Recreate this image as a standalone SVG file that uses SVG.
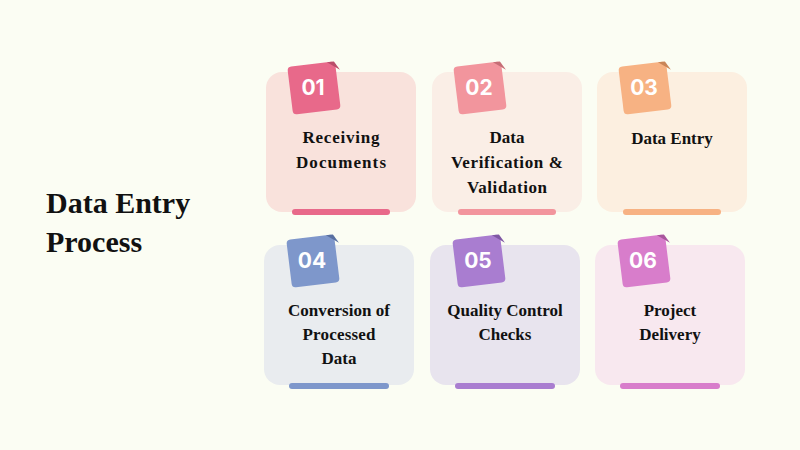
<svg xmlns="http://www.w3.org/2000/svg" width="800" height="450" viewBox="0 0 800 450">
<style>
.card{stroke:none}
.lbl{font-family:"Liberation Serif","DejaVu Serif",serif;font-weight:bold;font-size:17px;fill:#111;text-anchor:middle}
.title{font-family:"Liberation Serif","DejaVu Serif",serif;font-weight:bold;font-size:30px;fill:#111}
.num{font-family:Inter,"Open Sans","Liberation Sans",sans-serif;font-weight:700;font-size:21px;fill:#fff;text-anchor:middle}
</style>
<rect width="800" height="450" fill="#FBFDF3"/>
<g id="title">
<text class="title" x="46" y="213">Data Entry</text>
<text class="title" x="46" y="252">Process</text>
</g>
<g id="connectors"/>
<g id="step01">
<rect class="card" x="266" y="72" width="150" height="140" rx="16" fill="#F9E2DC"/>
<g transform="translate(314,88) rotate(-7)">
<rect x="-24" y="-24" width="48" height="48" rx="4" fill="#E8698A"/>
<polygon points="16,-24 28,-15 23,-24" fill="#B94D6A"/>
</g>
<text class="num" x="313" y="95">01</text>
<text class="lbl" x="341" y="143" textLength="77">Receiving</text>
<text class="lbl" x="341" y="168" textLength="90">Documents</text>
<rect x="292" y="209" width="98" height="6" rx="3" fill="#E8698A"/>
</g>
<g id="step02">
<rect class="card" x="432" y="72" width="150" height="140" rx="16" fill="#FAEEE6"/>
<g transform="translate(480,88) rotate(-7)">
<rect x="-24" y="-24" width="48" height="48" rx="4" fill="#F2959D"/>
<polygon points="16,-24 28,-15 23,-24" fill="#C66E76"/>
</g>
<text class="num" x="479" y="95">02</text>
<text class="lbl" x="507" y="143">Data</text>
<text class="lbl" x="507" y="168" textLength="112">Verification &amp;</text>
<text class="lbl" x="507" y="193" textLength="80">Validation</text>
<rect x="458" y="209" width="98" height="6" rx="3" fill="#F2959D"/>
</g>
<g id="step03">
<rect class="card" x="597" y="72" width="150" height="140" rx="16" fill="#FCEFE0"/>
<g transform="translate(645,88) rotate(-7)">
<rect x="-24" y="-24" width="48" height="48" rx="4" fill="#F7B283"/>
<polygon points="16,-24 28,-15 23,-24" fill="#C98558"/>
</g>
<text class="num" x="644" y="95">03</text>
<text class="lbl" x="672" y="144">Data Entry</text>
<rect x="623" y="209" width="98" height="6" rx="3" fill="#F7B283"/>
</g>
<g id="step04">
<rect class="card" x="264" y="245" width="150" height="140" rx="16" fill="#E9ECEF"/>
<g transform="translate(313,261) rotate(-7)">
<rect x="-24" y="-24" width="48" height="48" rx="4" fill="#7E97CB"/>
<polygon points="16,-24 28,-15 23,-24" fill="#586FA0"/>
</g>
<text class="num" x="312" y="268">04</text>
<text class="lbl" x="339" y="316" textLength="102">Conversion of</text>
<text class="lbl" x="339" y="340" textLength="73">Processed</text>
<text class="lbl" x="339" y="364">Data</text>
<rect x="289" y="383" width="100" height="6" rx="3" fill="#7E97CB"/>
</g>
<g id="step05">
<rect class="card" x="430" y="245" width="150" height="140" rx="16" fill="#E8E4EE"/>
<g transform="translate(479,261) rotate(-7)">
<rect x="-24" y="-24" width="48" height="48" rx="4" fill="#A97DD0"/>
<polygon points="16,-24 28,-15 23,-24" fill="#7F58A4"/>
</g>
<text class="num" x="478" y="268">05</text>
<text class="lbl" x="505" y="316">Quality Control</text>
<text class="lbl" x="505" y="340">Checks</text>
<rect x="455" y="383" width="100" height="6" rx="3" fill="#A97DD0"/>
</g>
<g id="step06">
<rect class="card" x="595" y="245" width="150" height="140" rx="16" fill="#F8E8EF"/>
<g transform="translate(644,261) rotate(-7)">
<rect x="-24" y="-24" width="48" height="48" rx="4" fill="#D87DCB"/>
<polygon points="16,-24 28,-15 23,-24" fill="#A8569C"/>
</g>
<text class="num" x="643" y="268">06</text>
<text class="lbl" x="670" y="316">Project</text>
<text class="lbl" x="670" y="340">Delivery</text>
<rect x="620" y="383" width="100" height="6" rx="3" fill="#D87DCB"/>
</g>
</svg>
